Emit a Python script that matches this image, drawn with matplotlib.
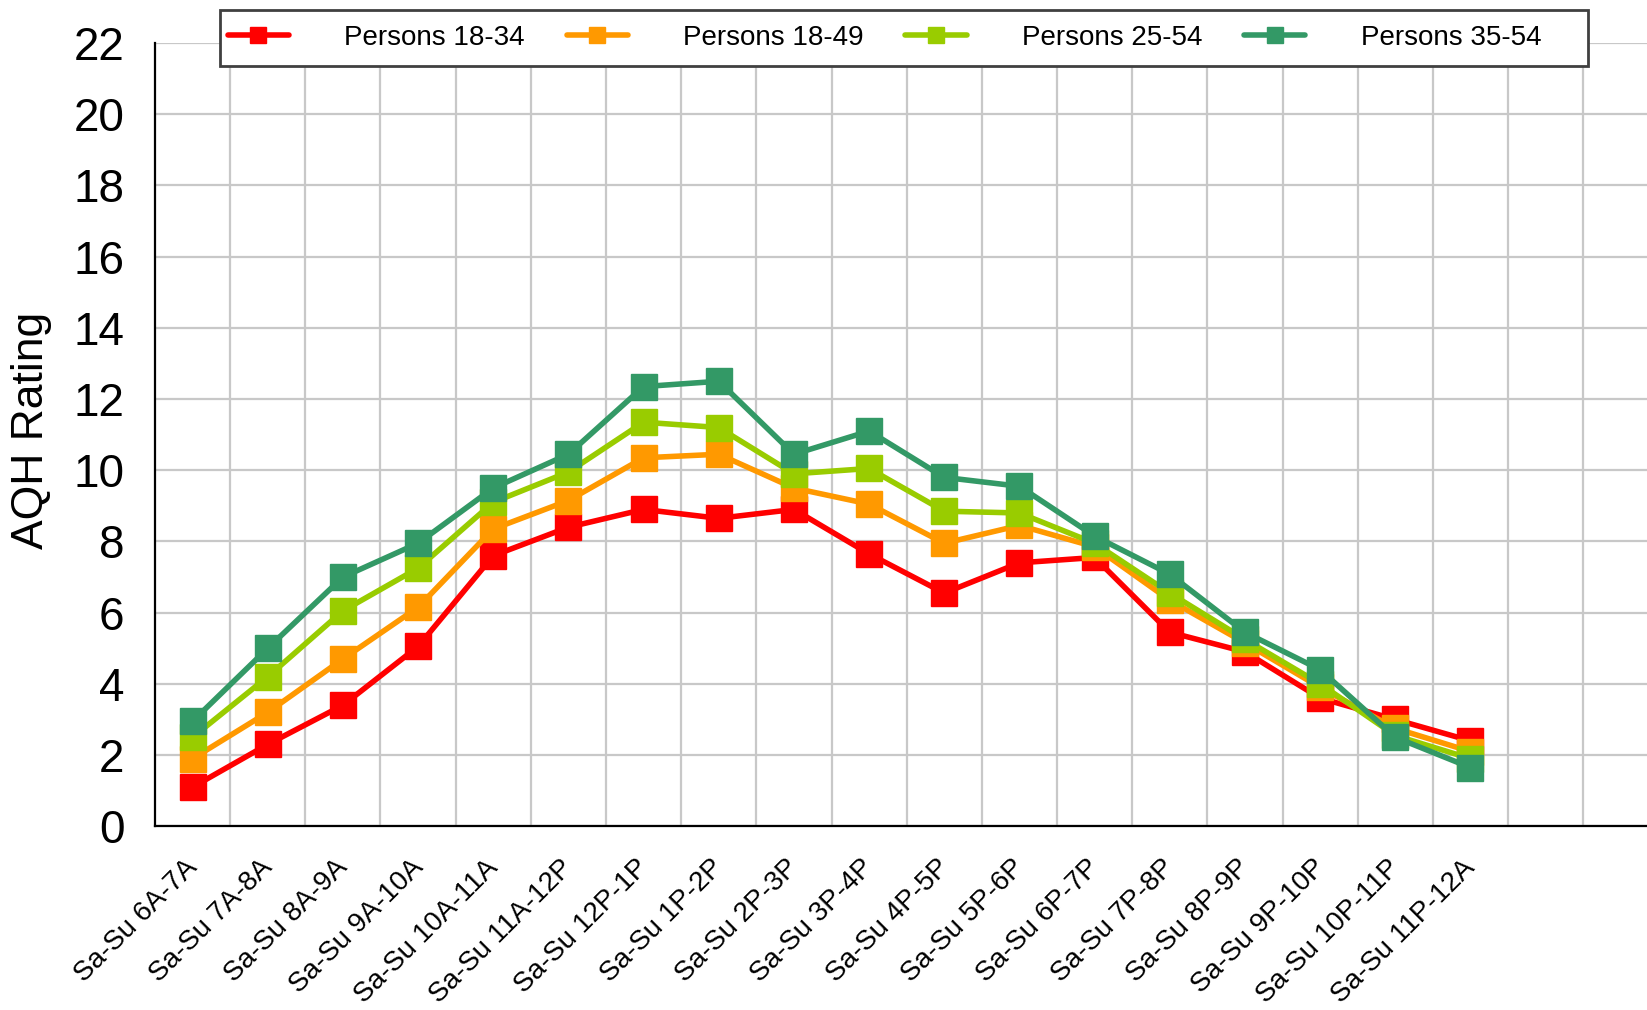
import numpy as np
import matplotlib
matplotlib.use("Agg")
import matplotlib.pyplot as plt
import matplotlib.transforms as mtransforms
from matplotlib.patches import Rectangle

# ── data ────────────────────────────────────────────────────────────────────
categories = ["Sa-Su 6A-7A", "Sa-Su 7A-8A", "Sa-Su 8A-9A", "Sa-Su 9A-10A",
              "Sa-Su 10A-11A", "Sa-Su 11A-12P", "Sa-Su 12P-1P", "Sa-Su 1P-2P",
              "Sa-Su 2P-3P", "Sa-Su 3P-4P", "Sa-Su 4P-5P", "Sa-Su 5P-6P",
              "Sa-Su 6P-7P", "Sa-Su 7P-8P", "Sa-Su 8P-9P", "Sa-Su 9P-10P",
              "Sa-Su 10P-11P", "Sa-Su 11P-12A"]
p18_34 = [1.1, 2.3, 3.4, 5.05, 7.6, 8.4, 8.9, 8.65, 8.9, 7.65, 6.55, 7.4,
          7.55, 5.45, 4.9, 3.6, 3.0, 2.4]
p18_49 = [1.9, 3.2, 4.7, 6.15, 8.35, 9.15, 10.35, 10.45, 9.5, 9.05, 7.95, 8.45,
          7.85, 6.35, 5.15, 3.9, 2.75, 2.1]
p25_54 = [2.5, 4.2, 6.05, 7.25, 9.1, 9.95, 11.35, 11.2, 9.9, 10.05, 8.85, 8.8,
          7.95, 6.55, 5.25, 4.0, 2.55, 1.9]
p35_54 = [2.95, 5.0, 7.0, 7.95, 9.5, 10.45, 12.35, 12.5, 10.45, 11.1, 9.8, 9.55,
          8.15, 7.08, 5.45, 4.4, 2.5, 1.65]
series_names = ["Persons 18-34", "Persons 18-49", "Persons 25-54", "Persons 35-54"]
y_ticks = list(range(0, 23, 2))

COLORS = ["#FF0000", "#FF9900", "#99CC00", "#339966"]
FONT = ["Liberation Sans", "DejaVu Sans"]
W, H = 1647, 1010

# ── figure ─────────────────────────────────────────────────────────────────
fig = plt.figure(figsize=(W / 100, H / 100), dpi=100, facecolor="white")
N_COLS = 20
ax = fig.add_axes([0.0941, 0.1819, 0.04564 * N_COLS, 0.7755])

x = np.arange(len(categories))
for vals, name, col in zip([p18_34, p18_49, p25_54, p35_54], series_names, COLORS):
    ax.plot(x, vals, color=col, lw=4.0, marker="s", ms=19, mec=col, mfc=col,
            label=name)

ax.set_xlim(-0.5, N_COLS - 0.5)
ax.set_ylim(0, 22)
ax.set_yticks(y_ticks)
ax.set_yticklabels([str(v) for v in y_ticks], family=FONT, fontsize=33)
ax.tick_params(axis="y", length=0, pad=22)

ax.set_xticks(x)
ax.set_xticklabels(categories, rotation=45, ha="right", va="center",
                   rotation_mode="anchor", family=FONT, fontsize=20)
ax.tick_params(axis="x", length=0, pad=27)
offset = mtransforms.ScaledTranslation(1 / 100, 0, fig.dpi_scale_trans)
for lbl in ax.get_xticklabels():
    lbl.set_transform(lbl.get_transform() + offset)

ax.set_xticks(np.arange(0.5, N_COLS - 1, 1.0), minor=True)
ax.tick_params(axis="x", which="minor", length=0)
ax.grid(True, axis="y", which="major", color="#C8C8C8", lw=1.6)
ax.grid(True, axis="x", which="minor", color="#C8C8C8", lw=1.6)
ax.set_axisbelow(True)

for s in ("top", "right"):
    ax.spines[s].set_visible(False)
ax.spines["left"].set_linewidth(1.6)
ax.spines["bottom"].set_linewidth(1.6)

fig.text(31.5 / W, 1 - 430 / H, "AQH Rating", rotation=90, ha="center",
         va="center", family=FONT, fontsize=32)

# legend frame drawn separately (the original box is wider than its content)
fig.patches.append(Rectangle((220 / W, 1 - 66 / H), (1588 - 220) / W, 56 / H,
                             transform=fig.transFigure, facecolor="white",
                             edgecolor="#404040", lw=2, zorder=5))
handles, labels = ax.get_legend_handles_labels()
leg = fig.legend(handles, labels, loc="center left",
                 bbox_to_anchor=(222 / W, 1 - 38 / H), ncol=4, frameon=False,
                 prop={"family": FONT, "size": 20},
                 handlelength=2.2, handletextpad=2.0, columnspacing=1.5,
                 markerscale=0.6, borderaxespad=0, borderpad=0.2)
leg.set_zorder(6)
for h in leg.legend_handles:
    h.set_solid_capstyle("round")
    h.set_linewidth(4)

fig.savefig("out.png", dpi=100, facecolor="white")
